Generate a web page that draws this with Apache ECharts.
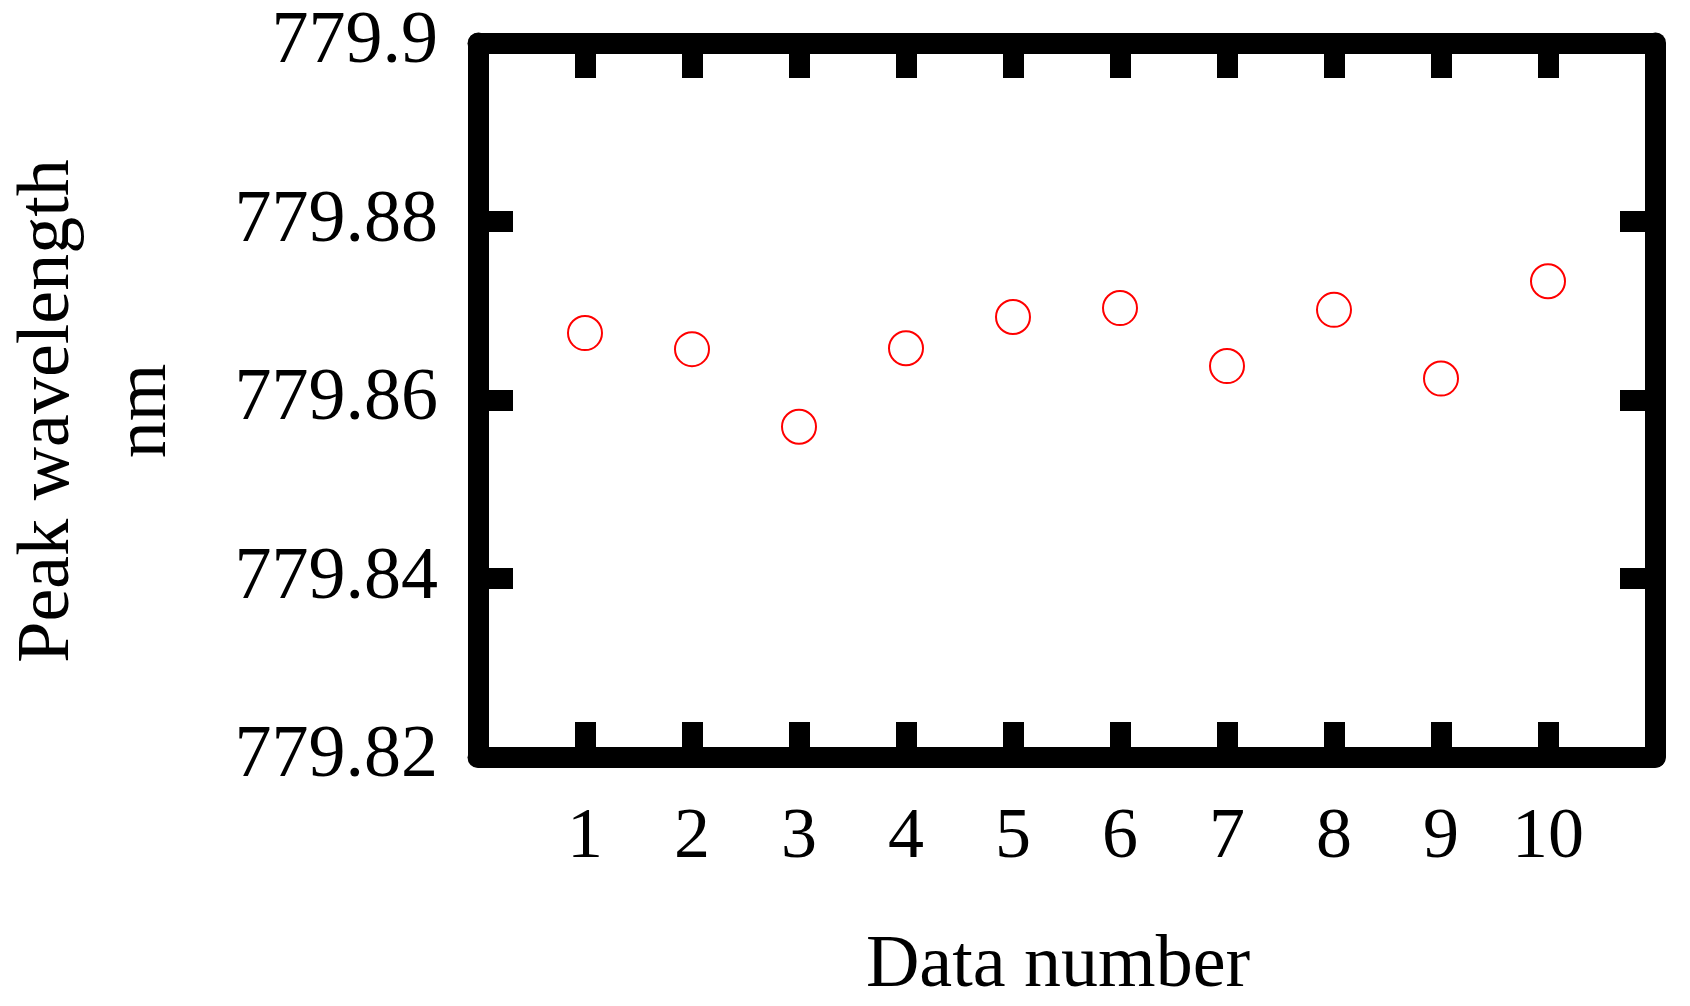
<!DOCTYPE html>
<html>
<head>
<meta charset="utf-8">
<script src="https://cdn.jsdelivr.net/npm/echarts@6/dist/echarts.min.js"></script>
<style>html,body{margin:0;padding:0;background:#fff}#chart{width:1690px;height:1006px}</style>
</head>
<body>
<div id="chart"></div>
<script>
var dataNumber = [1, 2, 3, 4, 5, 6, 7, 8, 9, 10];
var peakWavelength = [779.8675, 779.8657, 779.857, 779.8658, 779.8693, 779.8703, 779.8638, 779.8701, 779.8624, 779.8733];

var font = 'Liberation Serif';
var chart = echarts.init(document.getElementById('chart'));

var axisLine = { show: true, onZero: false, lineStyle: { color: '#000', width: 21 } };
var tick = { show: true, inside: true, length: 35, lineStyle: { color: '#000', width: 21 } };

chart.setOption({
	animation: false,
	backgroundColor: '#fff',
	grid: { left: 478, right: 35, top: 43, bottom: 249 },
	xAxis: [{
		type: 'value', position: 'bottom', min: 0, max: 11, interval: 1,
		axisLine: axisLine,
		axisTick: tick,
		splitLine: { show: false },
		axisLabel: {
			fontFamily: font, fontSize: 72, color: '#000', margin: 45,
			formatter: function (v) { return (v >= 1 && v <= 10) ? String(v) : ''; }
		}
	}, {
		type: 'value', position: 'top', min: 0, max: 11, interval: 1,
		axisLine: axisLine,
		axisTick: tick, axisLabel: { show: false }, splitLine: { show: false }
	}],
	yAxis: [{
		type: 'value', position: 'left', min: 779.82, max: 779.9, interval: 0.02,
		axisLine: axisLine,
		axisTick: tick,
		splitLine: { show: false },
		axisLabel: {
			fontFamily: font, fontSize: 74, color: '#000', margin: 40,
			formatter: function (v) { return String(parseFloat(v.toFixed(2))); }
		}
	}, {
		type: 'value', position: 'right', min: 779.82, max: 779.9, interval: 0.02,
		axisLine: axisLine,
		axisTick: tick, axisLabel: { show: false }, splitLine: { show: false }
	}],
	graphic: [
		{ type: 'text', x: 1058, y: 967, style: { text: 'Data number', font: '74px "Liberation Serif"', fill: '#000', textAlign: 'center', textVerticalAlign: 'middle' } },
		{ type: 'text', x: 49, y: 411, rotation: Math.PI / 2, style: { text: 'Peak wavelength', font: '74px "Liberation Serif"', fill: '#000', textAlign: 'center', textVerticalAlign: 'middle' } },
		{ type: 'text', x: 146, y: 411, rotation: Math.PI / 2, style: { text: 'nm', font: '74px "Liberation Serif"', fill: '#000', textAlign: 'center', textVerticalAlign: 'middle' } }
	],
	series: [{
		type: 'scatter',
		xAxisIndex: 0,
		yAxisIndex: 0,
		z: 10,
		symbol: 'circle',
		symbolSize: 34,
		itemStyle: { color: 'rgba(255,255,255,0)', borderColor: '#ff0000', borderWidth: 2, opacity: 1 },
		data: dataNumber.map(function (n, i) { return [n, peakWavelength[i]]; })
	}]
});
</script>
</body>
</html>
